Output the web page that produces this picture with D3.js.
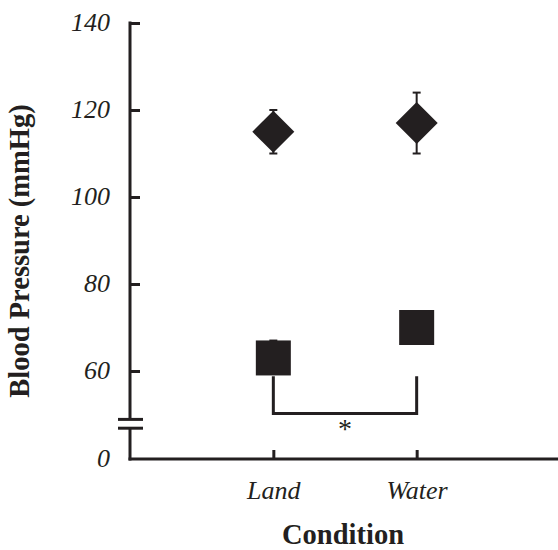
<!DOCTYPE html>
<meta charset="utf-8">
<style>
body { margin: 0; background: #fff; }
svg { font-family: "Liberation Serif", "Times New Roman", serif; }
.axis text { font-size: 26px; font-style: italic; fill: #231f20; }
.axis line { stroke: #231f20; stroke-width: 3; }
.axis path { display: none; }
.label { font-size: 28.5px; font-weight: bold; fill: #231f20; }
</style>
<body>
<svg width="558" height="550"></svg>
<script src="https://d3js.org/d3.v7.min.js"></script>
<script>

// data
var conditions = ["Land", "Water"];
var diamondMean = [115, 117];
var diamondErr  = [5, 7];
var squareMean  = [63, 70];
var squareErr   = [4, 2];
var yTicks = [0, 60, 80, 100, 120, 140];
var axisBreak = [21, 27];   // gap in the y axis between these values
var sigPair = ["Land", "Water"], sigTop = 56.5, sigBottom = 31;

var ink = "#231f20";
var serif = "'Liberation Serif', 'Times New Roman', serif";
var svg = d3.select("svg");

var x = d3.scalePoint()
    .domain(conditions)
    .range([130, 560])
    .padding(1);

// broken axis: 0 sits just below the 60..140 range
var y = d3.scaleLinear()
    .domain([0, 60, 140])
    .range([459, 371, 23]);

// y axis
var gy = svg.append("g")
    .attr("class", "axis")
    .attr("transform", "translate(130,0)")
    .call(d3.axisLeft(y).tickValues(yTicks).tickSizeInner(-10).tickSizeOuter(0).tickPadding(20))
    .attr("font-family", serif);
gy.selectAll(".tick").filter(function(d) { return d === 0; }).select("line").remove();
gy.selectAll("text").attr("dy", "0.28em");

svg.append("line")
    .attr("x1", 130).attr("x2", 130)
    .attr("y1", y(140) - 1.5).attr("y2", y(axisBreak[1]))
    .attr("stroke", ink).attr("stroke-width", 3);
svg.append("line")
    .attr("x1", 130).attr("x2", 130)
    .attr("y1", y(axisBreak[0])).attr("y2", y(0) + 1.5)
    .attr("stroke", ink).attr("stroke-width", 3);
svg.selectAll(".brk").data(axisBreak).enter().append("line")
    .attr("x1", 118).attr("x2", 143)
    .attr("y1", function(d) { return y(d); })
    .attr("y2", function(d) { return y(d); })
    .attr("stroke", ink).attr("stroke-width", 3);

// x axis
var gx = svg.append("g")
    .attr("class", "axis")
    .attr("transform", "translate(0," + y(0) + ")")
    .call(d3.axisBottom(x).tickSizeInner(-9).tickSizeOuter(0).tickPadding(22))
    .attr("font-family", serif);
svg.append("line")
    .attr("x1", 128.5).attr("x2", 558)
    .attr("y1", y(0)).attr("y2", y(0))
    .attr("stroke", ink).attr("stroke-width", 3);

// error bars
function errorBars(means, errs) {
  var g = svg.append("g").attr("stroke", ink).attr("stroke-width", 2);
  conditions.forEach(function(c, i) {
    var cx = x(c), lo = y(means[i] - errs[i]), hi = y(means[i] + errs[i]);
    g.append("line").attr("x1", cx).attr("x2", cx).attr("y1", lo).attr("y2", hi);
    g.append("line").attr("x1", cx - 4).attr("x2", cx + 4).attr("y1", lo).attr("y2", lo);
    g.append("line").attr("x1", cx - 4).attr("x2", cx + 4).attr("y1", hi).attr("y2", hi);
  });
}
errorBars(diamondMean, diamondErr);
errorBars(squareMean, squareErr);

// diamonds
svg.selectAll(".dia").data(diamondMean).enter().append("path")
    .attr("d", "M0,-21L21,0L0,21L-21,0Z")
    .attr("transform", function(d, i) { return "translate(" + x(conditions[i]) + "," + y(d) + ")"; })
    .attr("fill", ink);

// squares
svg.selectAll(".sq").data(squareMean).enter().append("rect")
    .attr("x", function(d, i) { return x(conditions[i]) - 17.5; })
    .attr("y", function(d) { return y(d) - 17.5; })
    .attr("width", 35).attr("height", 35)
    .attr("fill", ink);

// significance bracket
var x1 = x(sigPair[0]), x2 = x(sigPair[1]);
svg.append("path")
    .attr("d", "M" + x1 + "," + y(sigTop) + "V" + y(sigBottom) + "H" + x2 + "V" + y(sigTop))
    .attr("fill", "none").attr("stroke", ink).attr("stroke-width", 3);
svg.append("text")
    .attr("x", (x1 + x2) / 2).attr("y", y(sigBottom) + 24)
    .attr("text-anchor", "middle")
    .attr("font-size", 28).attr("fill", ink)
    .text("*");

// axis titles
svg.append("text")
    .attr("class", "label")
    .attr("x", 343).attr("y", 544)
    .attr("text-anchor", "middle")
    .text("Condition");
svg.append("text")
    .attr("class", "label")
    .attr("transform", "translate(29,251)rotate(-90)")
    .attr("text-anchor", "middle")
    .text("Blood Pressure (mmHg)");

</script>
</body>
